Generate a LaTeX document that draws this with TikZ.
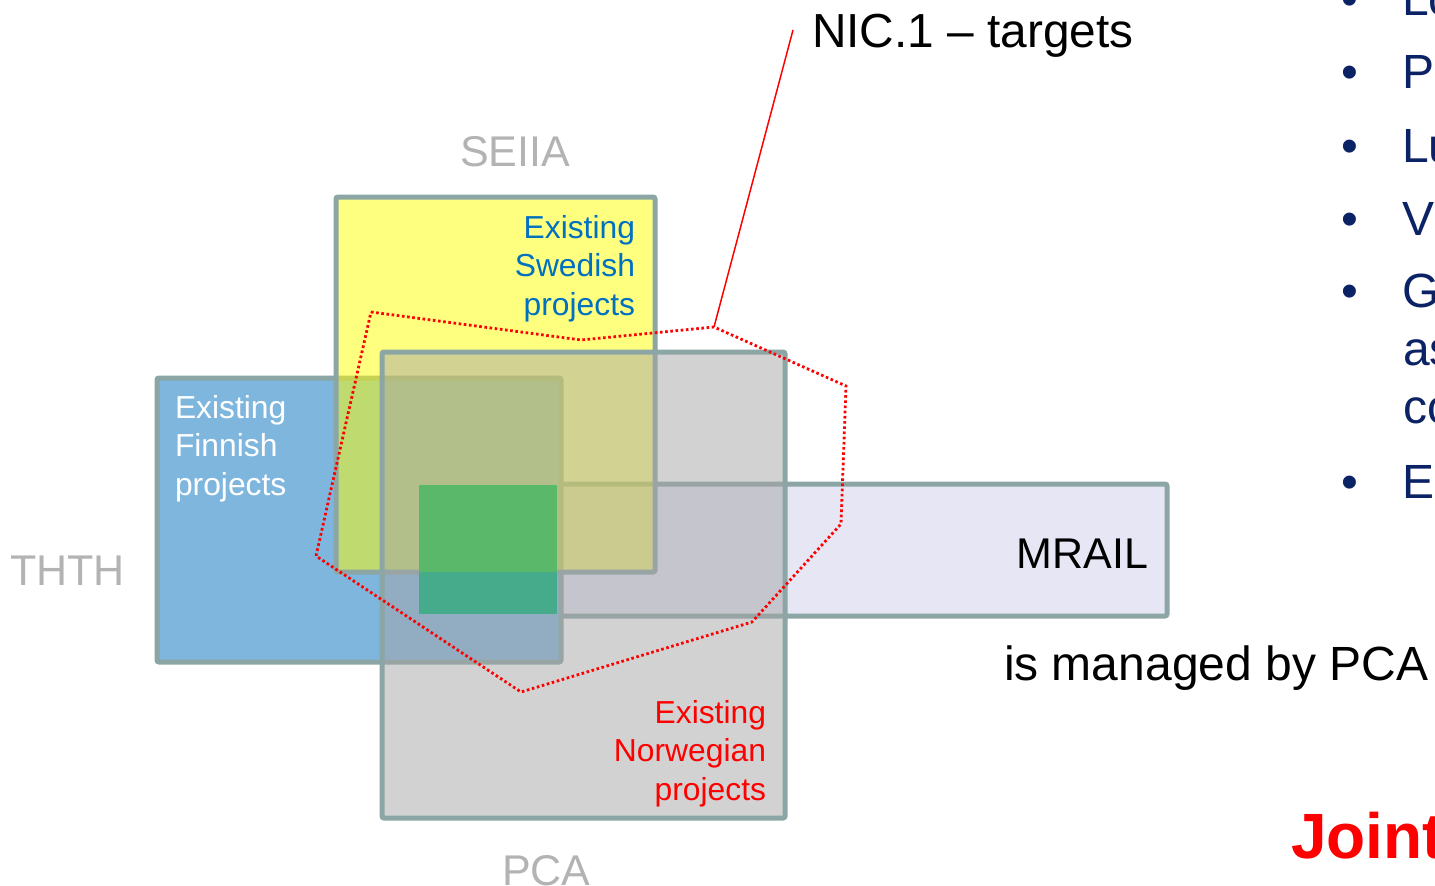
\documentclass[tikz,border=0pt]{standalone}
\usepackage{fontspec}
\setmainfont{Liberation Sans}
\definecolor{bordc}{HTML}{8CA5A5}
\definecolor{lavc}{HTML}{E6E6F5}
\definecolor{bluec}{HTML}{7FB6DE}
\definecolor{grayc}{HTML}{A6A6A6}
\definecolor{gup}{HTML}{5AB86A}
\definecolor{glow}{HTML}{45AB8A}
\definecolor{labgray}{HTML}{B3B3B3}
\definecolor{swblue}{HTML}{0070C0}
\definecolor{navy}{HTML}{0B2264}
\definecolor{yelc}{HTML}{FFFF00}
\begin{document}
\begin{tikzpicture}[x=1pt,y=-1pt,
  box/.style={draw=bordc, line width=5pt, rounded corners=2pt},
  lbl/.style={inner sep=0pt, outer sep=0pt},
  big/.style={font=\fontsize{43}{50}\selectfont},
  small/.style={font=\fontsize{31.8}{38.5}\selectfont},
  bul/.style={lbl, text=navy, font=\fontsize{48}{58}\selectfont},
  nicline/.style={draw=red, line width=2.8pt, dash pattern=on 2.6pt off 2.6pt}]
\useasboundingbox (0,0) rectangle (1435,886);
\clip (0,0) rectangle (1435,886);
% MRAIL (bottom layer)
\fill[lavc] (417,484) rectangle (1167,616);
\draw[box] (417,484) rectangle (1167,616);
% Finnish
\fill[bluec] (157,378) rectangle (561,662);
\draw[box] (157,378) rectangle (561,662);
% Swedish
\fill[yelc, fill opacity=0.5] (336,197) rectangle (655,572);
\draw[box] (336,197) rectangle (655,572);
% PCA / Norwegian
\fill[grayc, fill opacity=0.5] (382,352) rectangle (785,818);
\draw[box] (382,352) rectangle (785,818);
% common area
\fill[gup] (419,485) rectangle (557,572);
\fill[glow] (419,572) rectangle (557,614);
% labels of the boxes
\node[lbl, big, text=labgray, anchor=base west] (seiia) at (460,166) {SEIIA};
\node[lbl, big, text=labgray, anchor=base west] (thth) at (10,585) {THTH};
\node[lbl, big, text=labgray, anchor=base west] (pca) at (502,885) {PCA};
\node[lbl, big, text=black, anchor=base east] (mrail) at (1148,568) {MRAIL};
\node[lbl, small, text=swblue, anchor=base east] (swe) at (635,238)
  {\begin{tabular}[t]{@{}r@{}}Existing\\Swedish\\projects\end{tabular}};
\node[lbl, small, text=white, anchor=base west] (fin) at (175,418)
  {\begin{tabular}[t]{@{}l@{}}Existing\\Finnish\\projects\end{tabular}};
\node[lbl, small, text=red, anchor=base east] (nor) at (766,723)
  {\begin{tabular}[t]{@{}r@{}}Existing\\Norwegian\\projects\end{tabular}};
% NIC.1 targets
\coordinate (p1) at (371,312);
\coordinate (p2) at (581,340);
\coordinate (p3) at (714,327);
\coordinate (p4) at (846,386);
\coordinate (p5) at (841,524);
\coordinate (p6) at (752,622);
\coordinate (p7) at (521,692);
\coordinate (p8) at (316,556);
\draw[nicline] (p1) -- (p2) -- (p3) -- (p4) -- (p5) -- (p6) -- (p7) -- (p8) -- cycle;
\node[lbl, text=black, anchor=base west, font=\fontsize{47.8}{57}\selectfont] (nic) at (812,47) {NIC.1 – targets};
\coordinate (nictip) at (793,30);
\draw[red, line width=1.5pt] (p3) -- (nictip);
% right-hand text
\node[lbl, text=black, anchor=base west, font=\fontsize{48}{58}\selectfont] (managed) at (1004,680) {is managed by PCA};
\node[lbl, text=red, anchor=base west, font=\bfseries\fontsize{64}{76}\selectfont] (joint) at (1291,858) {Joint};
% bullets
\node[bul, anchor=base] (b1) at (1350,15) {•};
\node[bul, anchor=base west] (t1) at (1402,15) {Lo};
\node[bul, anchor=base] (b2) at (1350,88) {•};
\node[bul, anchor=base west] (t2) at (1402,88) {P};
\node[bul, anchor=base] (b3) at (1350,162) {•};
\node[bul, anchor=base west] (t3) at (1402,162) {Lu};
\node[bul, anchor=base] (b4) at (1350,235) {•};
\node[bul, anchor=base west] (t4) at (1402,235) {V};
\node[bul, anchor=base] (b5) at (1350,307) {•};
\node[bul, anchor=base west] (t5) at (1402,307) {G};
\node[bul, anchor=base west] (t6) at (1403,365) {as};
\node[bul, anchor=base west] (t7) at (1403,423) {co};
\node[bul, anchor=base] (b8) at (1350,498) {•};
\node[bul, anchor=base west] (t8) at (1402,498) {E};
\end{tikzpicture}
\end{document}
